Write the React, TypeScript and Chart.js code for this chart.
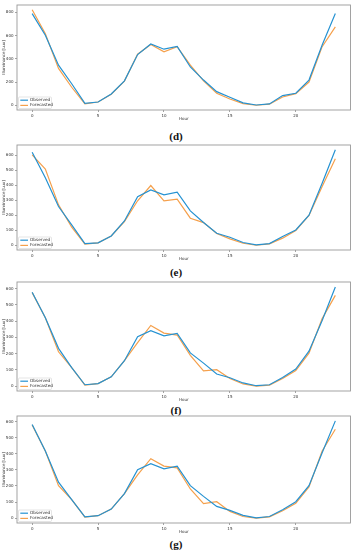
import React, { useEffect, useRef } from "react";
import { Chart, registerables } from "chart.js";
Chart.register(...registerables);

const hours = [0, 1, 2, 3, 4, 5, 6, 7, 8, 9, 10, 11, 12, 13, 14, 15, 16, 17, 18, 19, 20, 21, 22, 23];
const xTickValues = [0, 5, 10, 15, 20];

const observedD = [790, 603, 345, 185, 17, 28, 97, 210, 437, 528, 483, 508, 330, 217, 117, 69, 20, 2, 11, 83, 103, 217, 520, 790];
const forecastD = [823, 617, 317, 155, 12, 28, 95, 208, 440, 523, 460, 505, 345, 210, 103, 54, 14, 0, 9, 71, 100, 200, 505, 675];
const yTicksD = [0, 200, 400, 600, 800];

const observedE = [620, 450, 258, 136, 11, 16, 62, 162, 324, 369, 336, 353, 229, 151, 80, 53, 18, 2, 11, 58, 102, 200, 413, 636];
const forecastE = [602, 507, 269, 120, 7, 16, 62, 158, 296, 398, 296, 307, 180, 151, 78, 42, 13, 0, 9, 47, 98, 198, 391, 576];
const yTicksE = [0, 100, 200, 300, 400, 500, 600];

const observedF = [578, 421, 232, 114, 8, 15, 57, 156, 303, 341, 309, 324, 204, 141, 74, 51, 19, 2, 8, 53, 105, 215, 404, 610];
const forecastF = [575, 420, 211, 114, 6, 15, 57, 156, 267, 373, 326, 314, 189, 93, 101, 46, 13, 0, 6, 46, 95, 202, 415, 558];
const yTicksF = [0, 100, 200, 300, 400, 500, 600];

const observedG = [581, 417, 223, 115, 8, 15, 56, 152, 300, 338, 306, 323, 202, 135, 73, 48, 17, 2, 10, 52, 102, 202, 406, 604];
const forecastG = [578, 417, 202, 115, 6, 15, 56, 152, 269, 369, 323, 312, 181, 90, 102, 42, 10, 0, 8, 46, 92, 194, 417, 552];
const yTicksG = [0, 100, 200, 300, 400, 500, 600];

const BLUE = "#2592d2";
const ORANGE = "#f5a04c";
const FONT = "DejaVu Sans";
const TXT = "#333";

const framePlugin = {
  id: "frame",
  afterDraw(chart: any) {
    const { ctx, chartArea } = chart;
    ctx.save();
    ctx.strokeStyle = "#999";
    ctx.lineWidth = 0.9;
    ctx.strokeRect(chartArea.left, chartArea.top, chartArea.right - chartArea.left, chartArea.bottom - chartArea.top);
    ctx.restore();
  },
};

const legendPlugin = {
  id: "insideLegend",
  afterDatasetsDraw(chart: any) {
    const { ctx, chartArea } = chart;
    const w = 33, h = 11.5;
    const bx = chartArea.left + 1.5;
    const by = chartArea.bottom - 1.5 - h;
    ctx.save();
    ctx.fillStyle = "rgba(255,255,255,0.85)";
    ctx.strokeStyle = "#d4d4d4";
    ctx.lineWidth = 0.6;
    ctx.beginPath();
    ctx.roundRect(bx, by, w, h, 1);
    ctx.fill();
    ctx.stroke();
    chart.data.datasets.forEach((ds: any, i: number) => {
      const y = by + 3.2 + i * 5.2;
      ctx.strokeStyle = ds.borderColor;
      ctx.lineWidth = 1.2;
      ctx.beginPath();
      ctx.moveTo(bx + 1.8, y);
      ctx.lineTo(bx + 9.5, y);
      ctx.stroke();
      ctx.fillStyle = TXT;
      ctx.font = `4.2px "${FONT}"`;
      ctx.textBaseline = "middle";
      ctx.fillText(ds.label, bx + 11.5, y);
    });
    ctx.restore();
  },
};

type PanelProps = {
  obs: number[];
  fc: number[];
  yTicks: number[];
  plotTop: number;
  plotBottom: number;
  caption: string;
  captionY: number;
};

function Panel({ obs, fc, yTicks, plotTop, plotBottom, caption, captionY }: PanelProps) {
  const ref = useRef<HTMLCanvasElement>(null);
  const padTop = 5;
  const xAxisH = 11;
  const canvasTop = plotTop - padTop;
  const canvasH = plotBottom - plotTop + padTop + xAxisH;

  useEffect(() => {
    if (!ref.current) return;
    const all = [...obs, ...fc];
    const lo = Math.min(...all);
    const hi = Math.max(...all);
    const m = (hi - lo) * 0.05;
    const tickFont = { size: 4, family: FONT };
    const chart = new Chart(ref.current, {
      type: "line",
      data: {
        datasets: [
          {
            label: "Observed",
            data: hours.map((h, i) => ({ x: h, y: obs[i] })),
            borderColor: BLUE,
            backgroundColor: BLUE,
            borderWidth: 1.2,
            pointRadius: 0,
            tension: 0,
            fill: false,
          },
          {
            label: "Forecasted",
            data: hours.map((h, i) => ({ x: h, y: fc[i] })),
            borderColor: ORANGE,
            backgroundColor: ORANGE,
            borderWidth: 1.2,
            pointRadius: 0,
            tension: 0,
            fill: false,
          },
        ],
      },
      options: {
        responsive: false,
        animation: false,
        devicePixelRatio: 1,
        layout: { padding: { top: padTop, right: 8.5, left: 0, bottom: 0 } },
        plugins: { legend: { display: false }, tooltip: { enabled: false } },
        scales: {
          x: {
            type: "linear",
            min: -1.15,
            max: 24.15,
            afterBuildTicks: (s: any) => {
              s.ticks = xTickValues.map((v) => ({ value: v }));
            },
            afterFit: (s: any) => {
              s.height = xAxisH;
            },
            ticks: { font: tickFont, color: TXT, padding: 1.5, maxRotation: 0, autoSkip: false },
            grid: { drawOnChartArea: false, drawTicks: true, tickLength: 2, color: "#666", lineWidth: 0.6 },
            border: { display: false },
            title: { display: true, text: "Hour", font: tickFont, color: TXT, padding: 0 },
          },
          y: {
            type: "linear",
            min: lo - m,
            max: hi + m,
            afterBuildTicks: (s: any) => {
              s.ticks = yTicks.map((v) => ({ value: v }));
            },
            afterFit: (s: any) => {
              s.width = 17;
            },
            ticks: { font: tickFont, color: TXT, padding: 1.5, autoSkip: false },
            grid: { drawOnChartArea: false, drawTicks: true, tickLength: 2, color: "#666", lineWidth: 0.6 },
            border: { display: false },
            title: { display: true, text: "Illuminance [Lux]", font: tickFont, color: TXT, padding: 1.5 },
          },
        },
      },
      plugins: [framePlugin, legendPlugin],
    } as any);
    return () => chart.destroy();
  }, []);

  return (
    <>
      <canvas
        ref={ref}
        width={359}
        height={canvasH}
        style={{ position: "absolute", left: 0, top: canvasTop, width: 359, height: canvasH }}
      />
      <div
        style={{
          position: "absolute",
          left: 0,
          width: 352,
          top: captionY - 7,
          height: 14,
          lineHeight: "14px",
          textAlign: "center",
          fontFamily: '"Liberation Serif", serif',
          fontWeight: "bold",
          fontSize: 11,
          color: "#111",
        }}
      >
        {caption}
      </div>
    </>
  );
}

export default function App() {
  return (
    <div style={{ position: "absolute", left: 0, top: 0, width: 359, height: 550, background: "#fff", overflow: "hidden" }}>
      <Panel obs={observedD} fc={forecastD} yTicks={yTicksD} plotTop={5} plotBottom={110} caption="(d)" captionY={136} />
      <Panel obs={observedE} fc={forecastE} yTicks={yTicksE} plotTop={145} plotBottom={250} caption="(e)" captionY={272} />
      <Panel obs={observedF} fc={forecastF} yTicks={yTicksF} plotTop={282} plotBottom={391} caption="(f)" captionY={410} />
      <Panel obs={observedG} fc={forecastG} yTicks={yTicksG} plotTop={416} plotBottom={523} caption="(g)" captionY={544} />
    </div>
  );
}
